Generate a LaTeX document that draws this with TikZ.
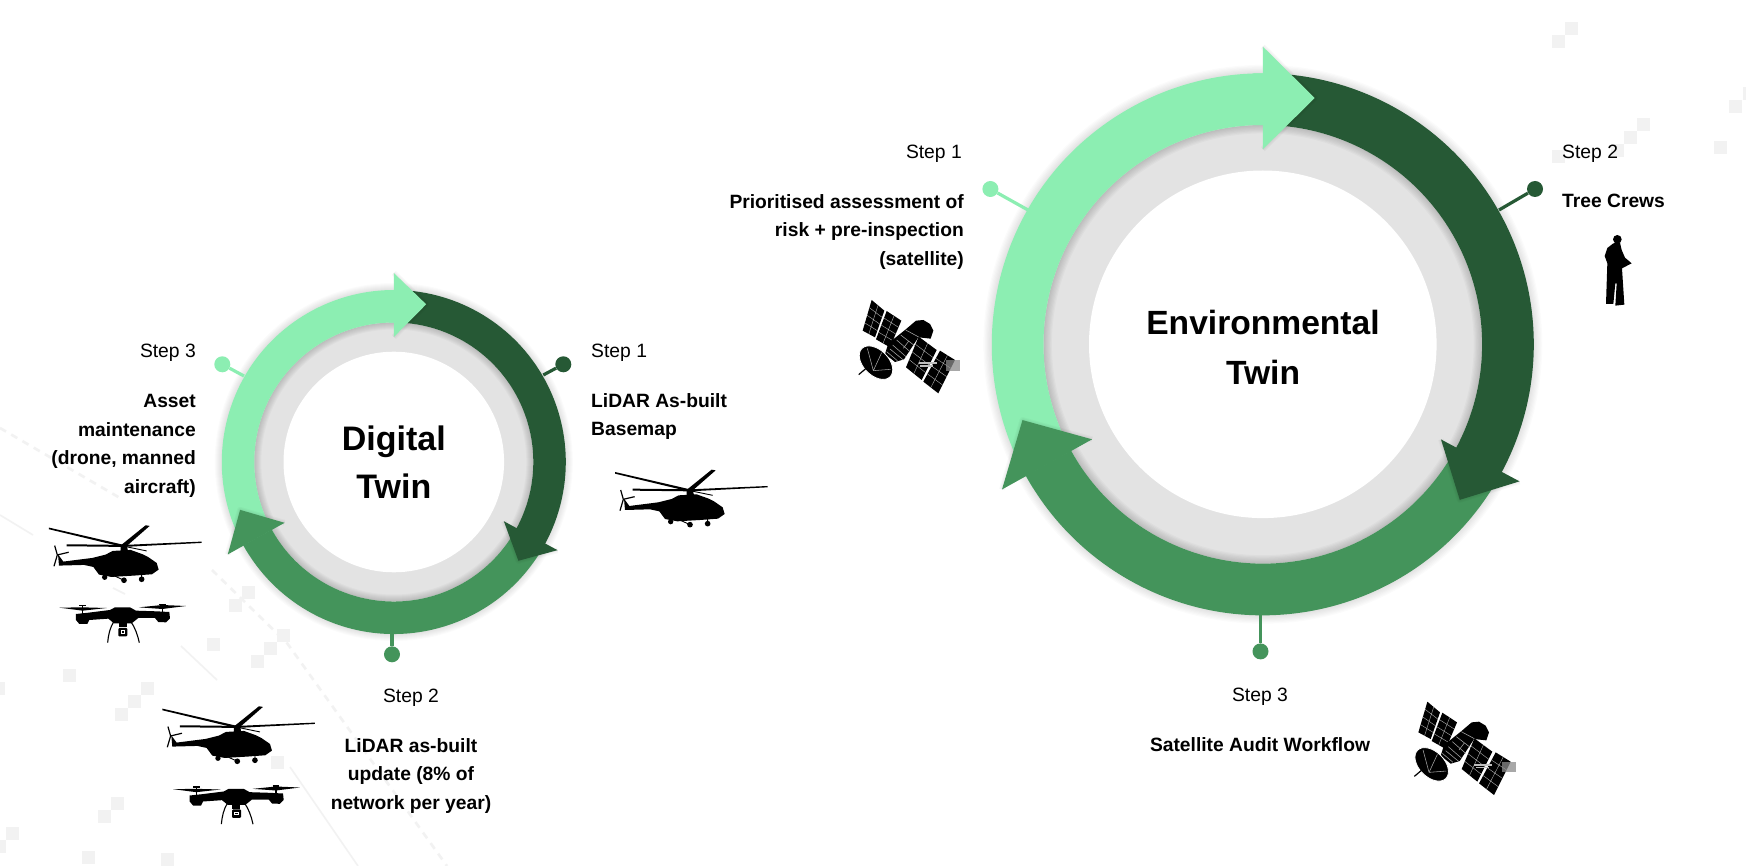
\documentclass[tikz,border=0pt]{standalone}
\usepackage{fontspec}
\setmainfont{Liberation Sans}
\usetikzlibrary{calc}
\definecolor{lightg}{HTML}{8CEEB2}
\definecolor{darkg}{HTML}{265935}
\definecolor{midg}{HTML}{44945B}
\definecolor{ringgrey}{HTML}{E3E3E3}
\definecolor{bgsq}{HTML}{F2F2F2}
\tikzset{
  bgsquare/.style={fill=bgsq,draw=none},
  bgline/.style={draw=bgsq,line width=1.6pt},
  bgdash/.style={draw=bgsq,line width=2.6pt,dash pattern=on 7pt off 6pt},
  stepl/.style={font=\fontsize{19.3}{24}\selectfont,inner sep=0pt},
  stept/.style={font=\fontsize{19.25}{28.6}\selectfont\bfseries,inner sep=0pt},
  twinsmall/.style={font=\fontsize{34}{48}\selectfont\bfseries,inner sep=0pt,align=center},
  twinbig/.style={font=\fontsize{33.6}{50}\selectfont\bfseries,inner sep=0pt,align=center},
  dotn/.style={circle,inner sep=0pt,minimum size=#1},
  stem/.style={line width=3.2pt},
}
% band of a ring, in a scope with y up
\newcommand{\band}[5]{\fill[#5] (#3:#1pt) arc[start angle=#3,end angle=#4,radius=#1pt] -- (#4:#2pt) arc[start angle=#4,end angle=#3,radius=#2pt] -- cycle;}
% arrowhead: colour, base angle, barb radii, tip angle, tip radius
\newcommand{\headtri}[6]{%
  \foreach \w in {2,4,6}{\draw[black,opacity=.025,line width=\w pt,line join=round] (#2:#3pt) -- (#5:#6pt) -- (#2:#4pt);}
  \fill[#1] (#2:#3pt) -- (#5:#6pt) -- (#2:#4pt) -- cycle;}
% ring backing: R, r, white radius
\newcommand{\ringback}[4]{%
  \foreach \k in {1,...,7}{\fill[black,opacity=.014] (0,0) circle[radius={(#1+\k*#4)*1pt}];}
  \fill[ringgrey] (0,0) circle[radius=#2pt];
  \foreach \k in {1,...,7}{\fill[black,opacity=.022,even odd rule] (0,0) circle[radius=#2pt] circle[radius={(#2-\k*#4)*1pt}];}
  \fill[white] (0,0) circle[radius=#3pt];}
% helicopter, drawn in 3x zoom units
\newcommand{\heli}[2]{\begin{scope}[shift={(#1,#2)},x=.3333pt,y=-.3333pt]
  \fill[black] (72,146) -- (75,180) -- (150,178) -- (178,184) -- (195,207) -- (232,214) -- (300,210) -- (354,206) -- (374,192) -- (368,172) -- (342,154) -- (326,146) -- (290,133) -- (236,136) -- (215,147) -- (175,157) -- (88,168) -- cycle;
  \fill[black] (45,66) -- (270,118) -- (270,125) -- (45,71) -- cycle;
  \fill[black] (98,116) -- (270,118) -- (503,108) -- (503,112) -- (270,124) -- (98,122) -- cycle;
  \fill[black] (262,118) -- (335,59) -- (347,61) -- (275,124) -- cycle;
  \fill[black] (260,118) -- (278,118) -- (282,136) -- (260,136) -- cycle;
  \draw[black,line width=.9pt] (270,122) -- (338,136);
  \draw[black,line width=1.2pt] (62,120) -- (70,148) -- (60,182) (70,148) -- (104,140);
  \draw[black,line width=.9pt] (235,208) -- (270,224) (323,205) -- (323,221);
  \fill[black] (212,215) circle[radius=8] (270,224) circle[radius=8.5] (323,221) circle[radius=8.5];
\end{scope}}
% drone
\newcommand{\drone}[2]{\begin{scope}[shift={(#1,#2)},x=.3333pt,y=-.3333pt]
  \fill[black] (58,53) -- (128,52) -- (200,54) -- (128,62) -- cycle;
  \fill[black] (297,52) -- (367,45) -- (438,48) -- (367,57) -- cycle;
  \draw[black,line width=1.5pt] (128,46) -- (128,74) (367,44) -- (367,72) (118,46) -- (138,46) (357,44) -- (377,44);
  \fill[black] (108,72) -- (146,68) -- (210,60) -- (225,52) -- (270,52) -- (288,62) -- (350,64) -- (388,66) -- (390,85) -- (378,97) -- (355,96) -- (345,84) -- (295,84) -- (275,100) -- (222,100) -- (205,86) -- (148,90) -- (142,102) -- (118,102) -- (108,90) -- cycle;
  \draw[black,line width=1.1pt] (222,94) .. controls (210,112) and (205,135) .. (203,158) (272,94) .. controls (285,112) and (293,135) .. (298,158);
  \fill[black] (236,98) rectangle (260,112);
  \fill[black,rounded corners=1pt] (235,114) rectangle (262,139);
  \fill[white] (242,121) rectangle (255,132);
  \fill[black] (245,124) rectangle (252,129);
\end{scope}}
% solar panel
\newcommand{\panelq}[4]{\fill[black] (#1) -- (#2) -- (#3) -- (#4) -- cycle;
  \draw[white!70!black,line width=.4pt] ($(#1)!.5!(#2)$) -- ($(#4)!.5!(#3)$) ($(#1)!.25!(#4)$) -- ($(#2)!.25!(#3)$) ($(#1)!.5!(#4)$) -- ($(#2)!.5!(#3)$) ($(#1)!.75!(#4)$) -- ($(#2)!.75!(#3)$);}
% satellite
\newcommand{\satellite}[2]{\begin{scope}[shift={(#1,#2)},x=.3333pt,y=-.3333pt]
  \panelq{95,60}{133,92}{105,172}{68,152}
  \panelq{140,93}{184,122}{150,202}{108,178}
  \fill[black] (195,150) -- (228,122) -- (250,120) -- (270,132) -- (280,152) -- (272,176) -- (235,172) -- (192,238) -- (165,246) -- (135,222) -- (145,190) -- cycle;
  \draw[white!65!black,line width=.55pt] (182,165) -- (225,198) (170,180) -- (210,215) (158,195) -- (198,230) (150,207) -- (190,240) (197,150) -- (238,172) (140,215) -- (172,242) (205,185) -- (190,205);
  \panelq{236,170}{290,210}{245,300}{198,262}
  \panelq{300,212}{345,240}{295,340}{250,305}
  \draw[white,line width=.8pt,fill=black,rotate around={-45:(108,248)}] (108,248) ellipse[x radius=60,y radius=38];
  \draw[white!65!black,line width=.55pt] (82,205) -- (100,272) (100,272) -- (152,268) (100,272) -- (125,218);
  \draw[black,line width=1.2pt] (56,284) -- (82,262);
  \fill[black!45,opacity=.75] (318,240) rectangle (360,272);
  \fill[white!75!black] (236,246) rectangle (290,252);
  \fill[white!75!black] (240,256) rectangle (280,260);
\end{scope}}
% man
\newcommand{\person}[2]{\begin{scope}[shift={(#1,#2)},x=.3333pt,y=-.3333pt]
  \fill[black] (142,58) circle[radius=13];
  \fill[black] (130,70) -- (112,84) -- (104,108) -- (112,130) -- (108,252) -- (130,252) -- (136,190) -- (140,190) -- (136,257) -- (163,254) -- (156,145) -- (185,130) -- (165,113) -- (155,90) -- (150,68) -- cycle;
\end{scope}}
\begin{document}
\begin{tikzpicture}[x=1pt,y=-1pt]
\useasboundingbox (0,0) rectangle (1746,866);
\fill[white] (0,0) rectangle (1746,866);
% background decoration
\foreach \a/\b in {1552/35,1565/22,1637/118,1624/131,1611/144,1552/150,1729/100,1743/87,1714/141,242/586,229/599,277/629,264/642,251/655,207/638,63/669,141/682,128/695,115/708,111/797,98/810,6/827,-7/840,82/851,161/853,-8/682,271/756}{
  \fill[bgsquare] (\a,\b) rectangle ++(13.2,13.2);}
\draw[bgdash] (0,428) -- (120,498) (212,570) -- (287,643) -- (447,866);
\draw[bgline] (0,515) -- (33,535) (113,588) -- (125,594) (181,646) -- (217,680) (290,767) -- (358,866);
% digital twin ring
\begin{scope}[shift={(393.8,462)},y=1pt]
  \ringback{172}{139.5}{110.3}{1}
  \band{172}{139.5}{212}{90}{lightg}
  \band{172}{139.5}{-30}{-151}{midg}
  \band{172}{139.5}{85}{-29}{darkg}
  \headtri{darkg}{-28.3}{125}{186}{-38.4}{159}
  \headtri{midg}{209.1}{125}{190}{197.3}{161}
  \band{172}{139.5}{92}{89.5}{lightg}
  \headtri{lightg}{90}{125}{189}{78.4}{161}
\end{scope}
\node[twinsmall] (digital) at (393.8,462) {Digital\\Twin};
% environmental twin ring
\begin{scope}[shift={(1262.8,344.3)},y=1pt]
  \ringback{271}{219.3}{173.8}{1.2}
  \band{271}{219.3}{212}{90}{lightg}
  \band{271}{219.3}{-30}{-151}{midg}
  \band{271}{219.3}{85}{-29}{darkg}
  \headtri{darkg}{-28.1}{202}{291}{-38.3}{251}
  \headtri{midg}{209.1}{195.4}{298.5}{197.5}{252}
  \band{271}{219.3}{92}{89.5}{lightg}
  \headtri{lightg}{90}{195}{297.7}{78.1}{251.7}
\end{scope}
\node[twinbig] (env) at (1263,347) {Environmental\\Twin};
% dots and stems, digital
\node[dotn=16pt,fill=darkg] (d1) at (563.3,364.3) {};
\coordinate (d1e) at (543.3,375);
\draw[stem,darkg] (d1) -- (d1e);
\node[dotn=16pt,fill=lightg] (d3) at (222.3,364.3) {};
\coordinate (d3e) at (244,376);
\draw[stem,lightg] (d3) -- (d3e);
\node[dotn=16pt,fill=midg] (d2) at (392,654.3) {};
\coordinate (d2e) at (392,633);
\draw[stem,midg] (d2) -- (d2e);
% dots and stems, environmental
\node[dotn=16pt,fill=darkg] (e2) at (1535,189) {};
\coordinate (e2e) at (1499,210);
\draw[stem,darkg] (e2) -- (e2e);
\node[dotn=16pt,fill=lightg] (e1) at (990.4,189) {};
\coordinate (e1e) at (1028,210);
\draw[stem,lightg] (e1) -- (e1e);
\node[dotn=16pt,fill=midg] (e3) at (1260.5,651.4) {};
\coordinate (e3e) at (1260.5,615);
\draw[stem,midg] (e3) -- (e3e);
% texts
\node[stepl,anchor=east] (s3) at (196,353) {Step 3};
\node[stept,anchor=north east,align=right] (s3t) at (196,394) {Asset\\maintenance\\(drone, manned\\aircraft)};
\node[stepl,anchor=west] (s1) at (591,353) {Step 1};
\node[stept,anchor=north west,align=left] (s1t) at (591,393) {LiDAR As-built\\Basemap};
\node[stepl] (s2) at (411,698) {Step 2};
\node[stept,align=center,anchor=north] (s2t) at (411,738) {LiDAR as-built\\update (8\% of\\network per year)};
\node[stepl,anchor=east] (es1) at (962,154) {Step 1};
\node[stept,anchor=north east,align=right] (es1t) at (964,194) {Prioritised assessment of\\risk + pre-inspection\\(satellite)};
\node[stepl,anchor=west] (es2) at (1562,154) {Step 2};
\node[stept,anchor=north west,align=left] (es2t) at (1562,194) {Tree Crews};
\node[stepl] (es3) at (1260,697) {Step 3};
\node[stept,align=center,anchor=north] (es3t) at (1260,737) {Satellite Audit Workflow};
% icons
\heli{600}{450}
\heli{34}{505.6}
\heli{147.3}{686.6}
\drone{40}{590}
\drone{153.7}{771.5}
\satellite{840}{280}
\satellite{1395.7}{681.7}
\person{1570}{220}
\end{tikzpicture}
\end{document}
